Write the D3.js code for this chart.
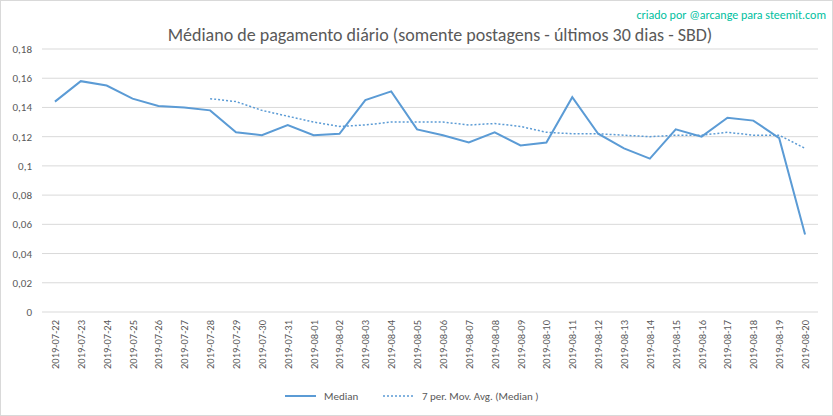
<!DOCTYPE html><html><head><meta charset="utf-8"><script src="https://cdn.jsdelivr.net/npm/d3@7"></script>
<style>body{margin:0;background:#fff}text{font-family:Calibri,Carlito,"Open Sans",sans-serif}</style></head><body><svg id="c" width="833" height="416"></svg>
<script>
const categories=["2019-07-22","2019-07-23","2019-07-24","2019-07-25","2019-07-26","2019-07-27","2019-07-28","2019-07-29","2019-07-30","2019-07-31","2019-08-01","2019-08-02","2019-08-03","2019-08-04","2019-08-05","2019-08-06","2019-08-07","2019-08-08","2019-08-09","2019-08-10","2019-08-11","2019-08-12","2019-08-13","2019-08-14","2019-08-15","2019-08-16","2019-08-17","2019-08-18","2019-08-19","2019-08-20"];
const median=[0.144,0.158,0.155,0.146,0.141,0.140,0.138,0.123,0.121,0.128,0.121,0.122,0.145,0.151,0.125,0.121,0.116,0.123,0.114,0.116,0.147,0.122,0.112,0.105,0.125,0.120,0.133,0.131,0.119,0.053];
const movAvg=[null,null,null,null,null,null,0.146,0.144,0.138,0.134,0.130,0.127,0.128,0.130,0.130,0.130,0.128,0.129,0.127,0.123,0.122,0.122,0.121,0.120,0.121,0.121,0.123,0.121,0.121,0.112];
const yTicks=[0,0.02,0.04,0.06,0.08,0.1,0.12,0.14,0.16,0.18];
const svg=d3.select("#c");
svg.append("rect").attr("x",0.5).attr("y",0.5).attr("width",832).attr("height",415).attr("fill","none").attr("stroke","#d9d9d9");
const L=42,R=818,T=49,B=312;
const x=d3.scalePoint().domain(categories).range([L,R]).padding(0.5);
const y=d3.scaleLinear().domain([0,0.18]).range([B,T]);
const fmt=v=>String(v).replace(".",",");
svg.append("g").selectAll("line").data(yTicks).join("line").attr("x1",L).attr("x2",R).attr("y1",d=>y(d)).attr("y2",d=>y(d)).attr("stroke","#d9d9d9");
svg.append("g").selectAll("text").data(yTicks).join("text").attr("x",L-10).attr("y",d=>y(d)+4).attr("text-anchor","end").attr("font-size",11).attr("fill","#595959").text(fmt);
svg.append("g").selectAll("text").data(categories).join("text").attr("transform",d=>`translate(${x(d)+4},${B+8}) rotate(-90)`).attr("text-anchor","end").attr("font-size",10.5).attr("fill","#595959").text(d=>d);
const line=d3.line().defined(d=>d!=null).x((d,i)=>x(categories[i])).y(d=>y(d));
svg.append("path").attr("d",line(median)).attr("fill","none").attr("stroke","#5b9bd5").attr("stroke-width",2);
svg.append("path").attr("d",line(movAvg)).attr("fill","none").attr("stroke","#5b9bd5").attr("stroke-width",1.5).attr("stroke-dasharray","2,2");
svg.append("text").attr("x",440).attr("y",41).attr("text-anchor","middle").attr("font-size",18).attr("fill","#595959").text("Médiano de pagamento diário (somente postagens - últimos 30 dias - SBD)");
svg.append("text").attr("x",826).attr("y",19).attr("text-anchor","end").attr("font-size",12).attr("fill","#00c0a0").text("criado por @arcange para steemit.com");
const lg=svg.append("g");
lg.append("line").attr("x1",285).attr("x2",316).attr("y1",396).attr("y2",396).attr("stroke","#5b9bd5").attr("stroke-width",2);
lg.append("text").attr("x",324).attr("y",400).attr("font-size",11).attr("fill","#595959").text("Median");
lg.append("line").attr("x1",383).attr("x2",414).attr("y1",396).attr("y2",396).attr("stroke","#5b9bd5").attr("stroke-width",1.5).attr("stroke-dasharray","2,2");
lg.append("text").attr("x",422).attr("y",400).attr("font-size",11).attr("fill","#595959").text("7 per. Mov. Avg. (Median )");
</script></body></html>
